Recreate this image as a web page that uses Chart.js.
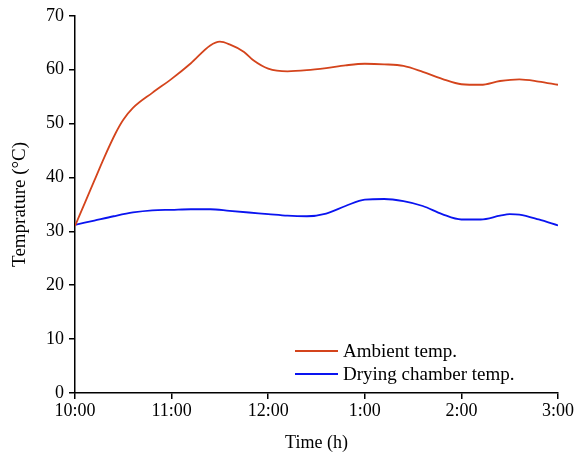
<!DOCTYPE html>
<html>
<head>
<meta charset="utf-8">
<script src="https://cdn.jsdelivr.net/npm/chart.js@4"></script>
<style>
  html, body { margin: 0; padding: 0; background: #fff; }
  #wrap { width: 578px; height: 458px; }
</style>
</head>
<body>
<div id="wrap"><canvas id="tempChart" width="578" height="458"></canvas></div>
<script>
// Vaqt (soat, 10:00 dan boshlab) va haroratlar
const xLabels = ['10:00', '11:00', '12:00', '1:00', '2:00', '3:00'];
const yTicks = [0, 10, 20, 30, 40, 50, 60, 70];

const ambientHours = [0, 0.1, 0.2, 0.3, 0.42, 0.5, 0.6, 0.8, 1.0, 1.2, 1.4, 1.5, 1.6, 1.75, 1.85, 2.0, 2.2, 2.4, 2.6, 2.8, 3.0, 3.2, 3.4, 3.6, 3.8, 4.0, 4.2, 4.4, 4.6, 4.8, 5.0];
const ambientTemp  = [31, 35.2, 39.4, 43.6, 48.2, 50.7, 52.9, 55.7, 58.3, 61.2, 64.5, 65.2, 64.7, 63.3, 61.7, 60.2, 59.7, 59.9, 60.3, 60.8, 61.1, 61.0, 60.7, 59.6, 58.3, 57.3, 57.2, 57.9, 58.2, 57.8, 57.2];

const chamberHours = [0, 0.2, 0.4, 0.6, 0.8, 1.0, 1.2, 1.4, 1.6, 1.8, 2.0, 2.2, 2.4, 2.6, 2.8, 3.0, 3.2, 3.4, 3.6, 3.8, 4.0, 4.2, 4.4, 4.5, 4.6, 4.8, 5.0];
const chamberTemp  = [31.2, 32, 32.8, 33.5, 33.9, 34.0, 34.1, 34.1, 33.8, 33.5, 33.2, 32.9, 32.8, 33.3, 34.7, 35.9, 36.0, 35.6, 34.7, 33.2, 32.2, 32.2, 32.9, 33.2, 33.1, 32.2, 31.1];

const seriesNames = ['Ambient temp.', 'Drying chamber temp.'];
const seriesColors = ['#d4441c', '#0a14f0'];

const FONT = 'Liberation Serif, Times New Roman, serif';

function toPoints(xs, ys) {
    return xs.map((x, i) => ({ x: x, y: ys[i] }));
}

// Grafik ichidagi legend
const innerLegend = {
    id: 'innerLegend',
    afterDraw(chart) {
        const ctx = chart.ctx;
        const area = chart.chartArea;
        const x0 = area.left + 220;
        const y0 = area.bottom - 42;
        ctx.save();
        ctx.font = '19px ' + FONT;
        ctx.textBaseline = 'middle';
        ctx.fillStyle = '#000';
        seriesNames.forEach((name, i) => {
            const y = y0 + i * 23;
            ctx.strokeStyle = seriesColors[i];
            ctx.lineWidth = 1.8;
            ctx.beginPath();
            ctx.moveTo(x0, y);
            ctx.lineTo(x0 + 43, y);
            ctx.stroke();
            ctx.fillText(name, x0 + 48, y + 1);
        });
        ctx.restore();
    }
};

new Chart(document.getElementById('tempChart'), {
    type: 'line',
    data: {
        datasets: [{
            label: seriesNames[0],
            data: toPoints(ambientHours, ambientTemp),
            borderColor: seriesColors[0],
            borderWidth: 1.8,
            pointRadius: 0,
            cubicInterpolationMode: 'monotone',
            fill: false
        }, {
            label: seriesNames[1],
            data: toPoints(chamberHours, chamberTemp),
            borderColor: seriesColors[1],
            borderWidth: 1.8,
            pointRadius: 0,
            cubicInterpolationMode: 'monotone',
            fill: false
        }]
    },
    options: {
        responsive: false,
        animation: false,
        layout: { padding: { left: 0, right: 20, top: 15, bottom: 0 } },
        plugins: {
            legend: { display: false },
            tooltip: { enabled: false }
        },
        scales: {
            x: {
                type: 'linear',
                min: 0,
                max: 5,
                afterFit(scale) { scale.height = 65; },
                ticks: {
                    stepSize: 1,
                    color: '#000',
                    font: { family: FONT, size: 18 },
                    padding: 1,
                    maxRotation: 0,
                    callback: (v) => xLabels[v]
                },
                grid: { display: true, drawOnChartArea: false, drawTicks: true, tickLength: 6, color: '#000', lineWidth: 1.5 },
                border: { display: true, color: '#000', width: 1.5 },
                title: { display: true, text: 'Time (h)', color: '#000', font: { family: FONT, size: 18 }, padding: { top: 3 } }
            },
            y: {
                min: 0,
                max: 70,
                afterFit(scale) { scale.width = 75; },
                afterBuildTicks(scale) { scale.ticks = yTicks.map(v => ({ value: v })); },
                ticks: {
                    color: '#000',
                    font: { family: FONT, size: 18 },
                    padding: 5
                },
                grid: { display: true, drawOnChartArea: false, drawTicks: true, tickLength: 6, color: '#000', lineWidth: 1.5 },
                border: { display: true, color: '#000', width: 1.5 },
                title: { display: true, text: 'Temprature (°C)', color: '#000', font: { family: FONT, size: 19 }, padding: { bottom: 0, top: 9 } }
            }
        }
    },
    plugins: [innerLegend]
});
</script>
</body>
</html>
